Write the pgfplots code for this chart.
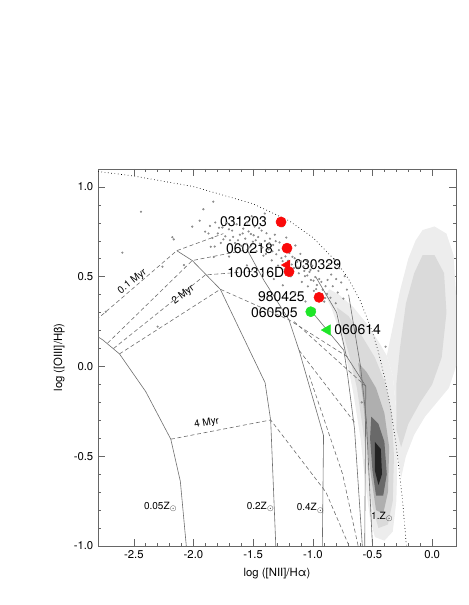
\documentclass[border=0pt]{standalone}
\usepackage{pgfplots}
\pgfplotsset{compat=1.18}
\usepackage{fontspec}
\setmainfont{TeX Gyre Heros}
\definecolor{grbred}{RGB}{250,10,10}
\definecolor{grbgreen}{RGB}{30,230,40}
\definecolor{gridgray}{RGB}{110,110,110}
\definecolor{dotgray}{RGB}{140,140,140}
\definecolor{d1}{RGB}{237,237,237}
\definecolor{d2}{RGB}{218,218,218}
\definecolor{d3}{RGB}{175,175,175}
\definecolor{d4}{RGB}{105,105,105}
\definecolor{d5}{RGB}{35,35,35}
\begin{document}
\begin{tikzpicture}
\begin{axis}[name=ax, scale only axis, width=268.5pt, height=282.75pt,
  xmin=-2.8, xmax=0.2, ymin=-1.0, ymax=1.1,
  xtick={-2.5,-2.0,-1.5,-1.0,-0.5,0.0}, ytick={-1.0,-0.5,0.0,0.5,1.0},
  minor x tick num=4, minor y tick num=4,
  tick align=inside, tick pos=both,
  major tick length=5pt, minor tick length=2.5pt,
  axis line style={black!60, line width=0.5pt},
  every tick/.style={black!60, line width=0.4pt},
  /pgf/number format/.cd, fixed, fixed zerofill, precision=1, assume math mode=true,
  /pgfplots/.cd,
  ticklabel style={font=\fontsize{8.5}{10}\selectfont},
  label style={font=\fontsize{8.5}{10}\selectfont},
  xlabel={log ([NII]/Hα)}, ylabel={log ([OIII]/Hβ)},
  clip=true]
% density map (SDSS)
\addplot[fill=d1, draw=none] coordinates {(-0.86,0.43) (-0.78,0.40) (-0.66,0.33) (-0.55,0.24) (-0.45,0.14) (-0.38,0.06) (-0.33,-0.05) (-0.30,-0.25) (-0.29,-0.50) (-0.30,-0.75) (-0.33,-0.92) (-0.40,-0.97) (-0.48,-0.95) (-0.52,-0.85) (-0.56,-0.65) (-0.60,-0.40) (-0.66,-0.15) (-0.72,0.05) (-0.78,0.20) (-0.84,0.32) (-0.90,0.40)} -- cycle;
\addplot[fill=d1, draw=none] coordinates {(-0.38,0.06) (-0.33,0.22) (-0.27,0.42) (-0.20,0.60) (-0.14,0.70) (-0.08,0.76) (0.02,0.78) (0.12,0.74) (0.18,0.62) (0.20,0.40) (0.20,0.0) (0.14,-0.12) (0.04,-0.20) (-0.06,-0.28) (-0.15,-0.38) (-0.22,-0.50) (-0.26,-0.62) (-0.29,-0.50) (-0.30,-0.25) (-0.33,-0.05)} -- cycle;
\addplot[fill=d2, draw=none] coordinates {(-0.22,0.35) (-0.15,0.52) (-0.08,0.62) (0.02,0.62) (0.10,0.52) (0.12,0.30) (0.08,0.05) (0.0,-0.10) (-0.10,-0.20) (-0.20,-0.32) (-0.26,-0.45) (-0.30,-0.35) (-0.30,-0.10) (-0.27,0.10)} -- cycle;
\addplot[fill=d2, draw=none] coordinates {(-0.80,0.33) (-0.70,0.28) (-0.58,0.16) (-0.48,0.05) (-0.40,-0.08) (-0.34,-0.25) (-0.32,-0.50) (-0.33,-0.75) (-0.37,-0.88) (-0.45,-0.90) (-0.50,-0.78) (-0.54,-0.58) (-0.58,-0.35) (-0.63,-0.12) (-0.69,0.05) (-0.75,0.20)} -- cycle;
\addplot[fill=d3, draw=none] coordinates {(-0.62,0.02) (-0.55,-0.03) (-0.47,-0.12) (-0.40,-0.26) (-0.36,-0.45) (-0.37,-0.70) (-0.41,-0.82) (-0.47,-0.80) (-0.51,-0.62) (-0.55,-0.40) (-0.58,-0.18)} -- cycle;
\addplot[fill=d4, draw=none] coordinates {(-0.51,-0.28) (-0.45,-0.32) (-0.40,-0.42) (-0.38,-0.60) (-0.41,-0.72) (-0.47,-0.72) (-0.50,-0.58) (-0.52,-0.40)} -- cycle;
\addplot[fill=d5, draw=none] coordinates {(-0.48,-0.42) (-0.43,-0.46) (-0.42,-0.60) (-0.45,-0.66) (-0.48,-0.58)} -- cycle;
% scattered gray points
\addplot[only marks, mark=*, mark size=0.6pt, dotgray, mark options={draw=none}] coordinates {
(-1.862,0.783) (-1.841,0.716) (-1.817,0.802) (-1.796,0.741) (-1.771,0.688) (-1.758,0.774) (-1.733,0.725) (-1.718,0.801) (-1.694,0.703) (-1.676,0.757) (-1.652,0.688) (-1.638,0.792) (-1.611,0.734) (-1.597,0.671) (-1.583,0.768) (-1.566,0.712) (-1.549,0.803) (-1.531,0.664) (-1.519,0.738) (-1.502,0.695) (-1.487,0.779) (-1.471,0.642) (-1.458,0.721) (-1.443,0.684) (-1.429,0.757) (-1.414,0.617) (-1.402,0.699) (-1.388,0.742) (-1.371,0.653) (-1.359,0.712) (-1.344,0.591) (-1.332,0.677) (-1.318,0.734) (-1.306,0.625) (-1.291,0.562) (-1.279,0.691) (-1.263,0.604) (-1.248,0.653) (-1.236,0.541) (-1.222,0.718) (-1.207,0.589) (-1.196,0.632) (-1.183,0.502) (-1.171,0.611) (-1.158,0.548) (-1.146,0.674) (-1.131,0.583) (-1.117,0.519) (-1.104,0.627) (-1.092,0.471) (-1.079,0.558) (-1.066,0.503) (-1.053,0.589) (-1.041,0.446) (-1.028,0.527) (-1.016,0.482) (-1.004,0.561) (-0.991,0.421) (-0.979,0.498) (-0.966,0.454) (-0.953,0.532) (-0.941,0.392) (-0.928,0.471) (-0.917,0.428) (-0.904,0.361) (-0.893,0.447) (-0.881,0.404)
(-1.874,0.741) (-1.822,0.668) (-1.786,0.773) (-1.749,0.708) (-1.703,0.764) (-1.668,0.722) (-1.627,0.703) (-1.588,0.741) (-1.557,0.683) (-1.538,0.752) (-1.496,0.731) (-1.478,0.703) (-1.449,0.771) (-1.421,0.663) (-1.393,0.627) (-1.365,0.688) (-1.338,0.642) (-1.311,0.698) (-1.284,0.648) (-1.253,0.587) (-1.229,0.613) (-1.201,0.671) (-1.176,0.568) (-1.152,0.603) (-1.124,0.551) (-1.097,0.584) (-1.071,0.532) (-1.046,0.507) (-1.019,0.538) (-0.994,0.478) (-0.972,0.431) (-0.946,0.487) (-0.922,0.402) (-0.897,0.381)
(-0.862,0.571) (-0.846,0.512) (-0.833,0.447) (-0.818,0.596) (-0.804,0.487) (-0.791,0.412) (-0.779,0.548) (-0.762,0.468) (-0.744,0.378) (-0.733,0.503) (-0.714,0.428) (-0.876,0.482) (-0.852,0.383) (-0.808,0.352)
(-2.735,0.305) (-2.596,0.634) (-2.44,0.862) (-2.30,0.222) (-2.177,0.72) (-2.165,0.708) (-2.08,0.565) (-2.01,0.779) (-1.917,0.876) (-1.834,0.918) (-2.26,0.556) (-1.855,0.667) (-1.83,0.61) (-1.948,0.812) (-1.902,0.751) (-1.637,0.541) (-1.702,0.612) (-1.552,0.563) (-1.418,0.521) (-1.327,0.487) (-1.251,0.452) (-1.147,0.412) (-1.061,0.362) (-0.983,0.318) (-0.39,0.11) (-0.59,-0.20) (-1.402,0.852) (-1.512,0.837) (-1.251,0.781)
};
% metallicity tracks (solid)
\addplot[gridgray, line width=0.45pt] coordinates {(-2.90,0.22) (-2.80,0.165) (-2.76,0.148) (-2.62,0.07) (-2.40,-0.14) (-2.19,-0.405) (-2.11,-0.64) (-2.06,-1.0)};
\addplot[gridgray, line width=0.45pt] coordinates {(-2.14,0.645) (-2.01,0.59) (-1.775,0.43) (-1.40,-0.09) (-1.353,-0.30) (-1.31,-1.0)};
\addplot[gridgray, line width=0.45pt] coordinates {(-1.55,0.65) (-1.41,0.48) (-1.20,0.26) (-1.115,0.09) (-0.91,-0.385) (-0.92,-1.0)};
\addplot[gridgray, line width=0.45pt] coordinates {(-1.02,0.315) (-0.74,0.09) (-0.71,-0.04) (-0.65,-0.35) (-0.585,-1.0)};
\addplot[gridgray, line width=0.45pt] coordinates {(-0.976,0.50) (-0.80,0.30) (-0.72,0.06) (-0.556,-0.11) (-0.565,-1.0)};
\addplot[gridgray, line width=0.45pt] coordinates {(-0.70,0.40) (-0.60,0.0) (-0.551,-0.30) (-0.50,-1.0)};
% isochrones (dashed)
\addplot[gridgray, line width=0.45pt, dash pattern=on 3pt off 2pt] coordinates {(-2.90,0.21) (-2.14,0.645) (-1.75,0.74)};
\addplot[gridgray, line width=0.45pt, dash pattern=on 3pt off 2pt] coordinates {(-2.72,0.13) (-2.01,0.59) (-1.78,0.62) (-1.55,0.65)};
\addplot[gridgray, line width=0.45pt, dash pattern=on 3pt off 2pt] coordinates {(-2.67,0.10) (-1.90,0.51) (-1.50,0.53)};
\addplot[gridgray, line width=0.45pt, dash pattern=on 3pt off 2pt] coordinates {(-2.62,0.07) (-1.775,0.43) (-1.20,0.26) (-0.70,0.05)};
\addplot[gridgray, line width=0.45pt, dash pattern=on 3pt off 2pt] coordinates {(-2.19,-0.405) (-1.353,-0.298) (-0.89,-0.70) (-0.696,-1.0)};
\addplot[gridgray, line width=0.45pt, dash pattern=on 3pt off 2pt] coordinates {(-1.157,0.25) (-0.556,-0.11)};
\addplot[gridgray, line width=0.45pt, dash pattern=on 3pt off 2pt] coordinates {(-1.115,0.09) (-0.64,-0.32)};
\addplot[gridgray, line width=0.45pt, dash pattern=on 3pt off 2pt] coordinates {(-1.03,-0.05) (-0.75,-0.60) (-0.62,-1.0)};
% Kauffmann et al. (2003) demarcation (dotted)
\addplot[black, line width=0.5pt, dotted] coordinates {(-2.80,1.086) (-2.50,1.061) (-2.00,1.002) (-1.50,0.906) (-1.20,0.812) (-1.00,0.719) (-0.80,0.582) (-0.70,0.487) (-0.60,0.362) (-0.50,0.191) (-0.45,0.080) (-0.40,-0.056) (-0.35,-0.225) (-0.30,-0.443) (-0.25,-0.733) (-0.215,-1.002)};
% GRB hosts
\addplot[only marks, mark=*, mark size=3.8pt, grbred, mark options={draw=none}] coordinates {(-1.266,0.805) (-1.216,0.659) (-1.199,0.528) (-0.948,0.385)};
\addplot[only marks, mark=triangle*, mark size=4.2pt, grbred, mark options={draw=none, rotate=90}] coordinates {(-1.216,0.565)};
\addplot[only marks, mark=*, mark size=3.8pt, grbgreen, mark options={draw=none}] coordinates {(-1.017,0.305)};
\addplot[only marks, mark=triangle*, mark size=4.5pt, grbgreen, mark options={draw=none, rotate=90}] coordinates {(-0.878,0.203)};
% labels
\begin{scope}[every node/.style={font=\fontsize{10.5}{12}\selectfont, inner sep=0pt}]
\node[anchor=east] at (axis cs:-1.383,0.805) {031203};
\node[anchor=east] at (axis cs:-1.333,0.659) {060218};
\node[anchor=west] at (axis cs:-1.157,0.565) {030329};
\node[anchor=east] at (axis cs:-1.237,0.523) {100316D};
\node[anchor=east] at (axis cs:-1.065,0.389) {980425};
\node[anchor=east] at (axis cs:-1.124,0.302) {060505};
\node[anchor=west] at (axis cs:-0.822,0.203) {060614};
\end{scope}
\begin{scope}[every node/.style={font=\fontsize{7.5}{9}\selectfont, inner sep=0pt}]
\node[rotate=38] at (axis cs:-2.512,0.472) {0.1 Myr};
\node[rotate=37] at (axis cs:-2.085,0.398) {2 Myr};
\node[rotate=10] at (axis cs:-1.889,-0.316) {4 Myr};
\node at (axis cs:-2.274,-0.784) {0.05Z\textsubscript{$\odot$}};
\node at (axis cs:-1.436,-0.784) {0.2Z\textsubscript{$\odot$}};
\node at (axis cs:-1.017,-0.79) {0.4Z\textsubscript{$\odot$}};
\node at (axis cs:-0.417,-0.837) {1.Z\textsubscript{$\odot$}};
\end{scope}
\end{axis}
\path (ax.south west) ++(-73.5pt,-44.25pt) rectangle ++(351pt,453.75pt);
\end{tikzpicture}
\end{document}
